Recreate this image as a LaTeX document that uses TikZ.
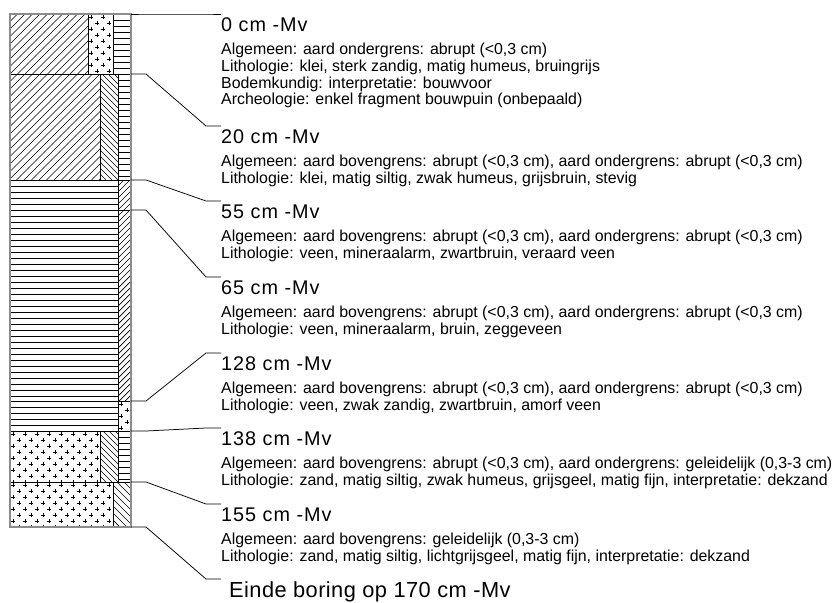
\documentclass[tikz,border=0pt]{standalone}
\usepackage{fontspec}
\setmainfont{Liberation Sans}
\newfontfamily\hdfont[LetterSpace=5]{Liberation Sans}
\newfontfamily\endfont[LetterSpace=2]{Liberation Sans}

% #1 spacing, #2 x1, #3 y1, #4 x2, #5 y2
\newcommand\fillFwd[5]{%
  \begin{scope}
  \clip (#2,#3) rectangle (#4,#5);
  \pgfmathsetmacro\hh{#5-#3}
  \pgfmathtruncatemacro\nn{(#4-#2+\hh)/#1+1}
  \foreach \i in {0,...,\nn}{\draw[hl] ({#2-\hh+#1*\i},#5) -- ++(\hh,-\hh);}
  \end{scope}}
\newcommand\fillBwd[5]{%
  \begin{scope}
  \clip (#2,#3) rectangle (#4,#5);
  \pgfmathsetmacro\hh{#5-#3}
  \pgfmathtruncatemacro\nn{(#4-#2+\hh)/#1+1}
  \foreach \i in {0,...,\nn}{\draw[hl] ({#2-\hh+#1*\i},#3) -- ++(\hh,\hh);}
  \end{scope}}
\newcommand\fillHor[4]{%
  \begin{scope}
  \clip (#1,#2) rectangle (#3,#4);
  \pgfmathtruncatemacro\nn{(#4-#2)/6}
  \foreach \i in {1,...,\nn}{\draw[hl] (#1,{#2+6*\i}) -- (#3,{#2+6*\i});}
  \end{scope}}
\newcommand\fillPlus[4]{%
  \begin{scope}
  \clip (#1,#2) rectangle (#3,#4);
  \pgfmathtruncatemacro\nr{(#4-#2)/6}
  \pgfmathtruncatemacro\nc{(#3-#1)/12+1}
  \foreach \j in {0,...,\nr}{\foreach \i in {0,...,\nc}{%
     \pgfmathsetmacro\px{#1+3+12*\i+6*mod(\j,2)}%
     \pgfmathsetmacro\py{#2+3+6*\j}%
     \draw[pl] (\px-2.3,\py) -- (\px+2.3,\py) (\px,\py-2.3) -- (\px,\py+2.3);}}
  \end{scope}}

\begin{document}
\begin{tikzpicture}[x=1pt,y=-1pt,
  hl/.style={line width=0.7pt,black},
  pl/.style={line width=0.8pt,black},
  divl/.style={line width=1pt,black},
  outl/.style={line width=1.4pt,gray!90},
  conn/.style={line width=0.75pt,black},
  hd/.style={anchor=base west,inner sep=0pt,font=\hdfont\fontsize{19.8}{20}\selectfont},
  dt/.style={anchor=base west,inner sep=0pt,font=\fontsize{15.9}{17}\selectfont},
  ed/.style={anchor=base west,inner sep=0pt,font=\endfont\fontsize{21.8}{24}\selectfont}]
\useasboundingbox (0,0) rectangle (832,602);

% ---- layer patterns ----
% L1 0-20
\fillFwd{7.5}{10}{14}{88}{74}
\fillPlus{88}{14}{113}{74}
\fillHor{113}{14}{131}{74}
% L2 20-55
\fillFwd{7.5}{10}{74}{100}{180}
\fillBwd{6}{100}{74}{118}{180}
\fillHor{118}{74}{131}{180}
% L3 55-65
\fillHor{10}{180}{118}{210}
\fillFwd{6}{118}{180}{131}{210}
% L4 65-128
\fillHor{10}{210}{118}{401}
\fillFwd{6}{118}{210}{131}{401}
% L5 128-138
\fillHor{10}{401}{118}{431}
\fillPlus{118}{401}{131}{431}
% L6 138-155
\fillPlus{10}{431}{100}{482}
\fillBwd{6}{100}{431}{118}{482}
\fillHor{118}{431}{131}{482}
% L7 155-170
\fillPlus{10}{482}{113}{527}
\fillBwd{7}{113}{482}{131}{527}

% ---- dividers ----
\foreach \yy in {74,180,210,401,431,482}{\draw[divl] (10,\yy) -- (131,\yy);}
\draw[divl] (88,14) -- (88,74) (113,14) -- (113,74);
\draw[divl] (100,74) -- (100,180) (118,74) -- (118,180);
\draw[divl] (118,180) -- (118,431);
\draw[divl] (100,431) -- (100,482) (118,431) -- (118,482);
\draw[divl] (113,482) -- (113,527);
\draw[outl] (10,14) rectangle (131,527);

% ---- boundary points and label anchors ----
\coordinate (b0) at (131,14);   \coordinate (t0) at (221,14);
\coordinate (b20) at (131,74);  \coordinate (t20) at (221,126);
\coordinate (b55) at (131,180); \coordinate (t55) at (221,201);
\coordinate (b65) at (131,210); \coordinate (t65) at (221,277);
\coordinate (b128) at (131,401);\coordinate (t128) at (221,353);
\coordinate (b138) at (131,431);\coordinate (t138) at (221,428);
\coordinate (b155) at (131,482);\coordinate (t155) at (221,504);
\coordinate (b170) at (131,527);\coordinate (t170) at (221,579);
\foreach \n in {0,20,55,65,128,138,155,170}{
  \draw[conn] (b\n) -- ++(15,0) -- ([xshift=-15pt]t\n) -- (t\n);}

% ---- labels ----
\node[hd] (h0) at (221,31.5) {0 cm -Mv};
\node[dt] (d0a) at (221,54.8) {Algemeen: aard ondergrens: abrupt (<0,3 cm)};
\node[dt] (d0b) at (221,71.5) {Lithologie: klei, sterk zandig, matig humeus, bruingrijs};
\node[dt] (d0c) at (221,88.2) {Bodemkundig: interpretatie: bouwvoor};
\node[dt] (d0d) at (221,104.9) {Archeologie: enkel fragment bouwpuin (onbepaald)};

\node[hd] (h20) at (221,143.5) {20 cm -Mv};
\node[dt] (d20a) at (221,166.8) {Algemeen: aard bovengrens: abrupt (<0,3 cm), aard ondergrens: abrupt (<0,3 cm)};
\node[dt] (d20b) at (221,183.5) {Lithologie: klei, matig siltig, zwak humeus, grijsbruin, stevig};

\node[hd] (h55) at (221,218.5) {55 cm -Mv};
\node[dt] (d55a) at (221,241.8) {Algemeen: aard bovengrens: abrupt (<0,3 cm), aard ondergrens: abrupt (<0,3 cm)};
\node[dt] (d55b) at (221,258.5) {Lithologie: veen, mineraalarm, zwartbruin, veraard veen};

\node[hd] (h65) at (221,294.5) {65 cm -Mv};
\node[dt] (d65a) at (221,317.8) {Algemeen: aard bovengrens: abrupt (<0,3 cm), aard ondergrens: abrupt (<0,3 cm)};
\node[dt] (d65b) at (221,334.5) {Lithologie: veen, mineraalarm, bruin, zeggeveen};

\node[hd] (h128) at (221,370.5) {128 cm -Mv};
\node[dt] (d128a) at (221,393.8) {Algemeen: aard bovengrens: abrupt (<0,3 cm), aard ondergrens: abrupt (<0,3 cm)};
\node[dt] (d128b) at (221,410.5) {Lithologie: veen, zwak zandig, zwartbruin, amorf veen};

\node[hd] (h138) at (221,445.5) {138 cm -Mv};
\node[dt] (d138a) at (221,468.8) {Algemeen: aard bovengrens: abrupt (<0,3 cm), aard ondergrens: geleidelijk (0,3-3 cm)};
\node[dt] (d138b) at (221,485.5) {Lithologie: zand, matig siltig, zwak humeus, grijsgeel, matig fijn, interpretatie: dekzand};

\node[hd] (h155) at (221,521.5) {155 cm -Mv};
\node[dt] (d155a) at (221,544.8) {Algemeen: aard bovengrens: geleidelijk (0,3-3 cm)};
\node[dt] (d155b) at (221,561.5) {Lithologie: zand, matig siltig, lichtgrijsgeel, matig fijn, interpretatie: dekzand};

\node[ed] (e170) at (229,597.5) {Einde boring op 170 cm -Mv};
\end{tikzpicture}
\end{document}
